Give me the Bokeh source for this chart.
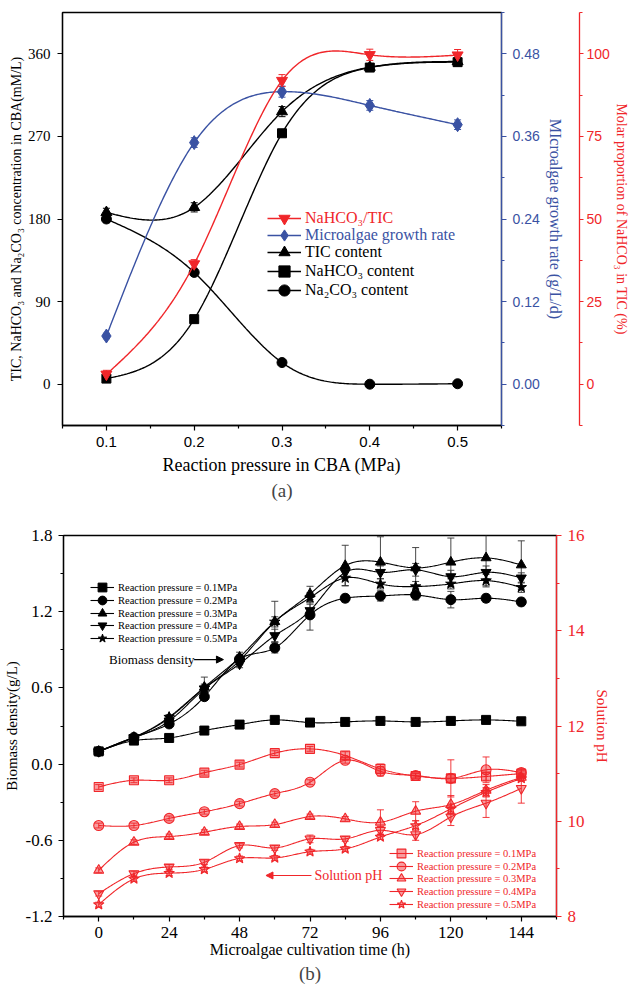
import numpy as np
from bokeh.plotting import figure
from bokeh.models import (Range1d, LinearAxis, FixedTicker, PrintfTickFormatter, Legend, LegendItem,
                          ColumnDataSource, Whisker, TeeHead, Title, Label, Arrow, NormalHead)
from bokeh.embed import file_html
from bokeh.resources import INLINE

# ---------------- data: panel (a) ----------------
pressure = [0.1, 0.2, 0.3, 0.4, 0.5]
nahco3_tic_pct = [3.0, 36.4, 91.9, 99.7, 99.6]
nahco3_tic_err = [1.2, 1.3, 1.8, 1.7, 1.7]
growth_rate = [0.070, 0.351, 0.425, 0.405, 0.377]
growth_rate_err = [0.004, 0.007, 0.008, 0.007, 0.007]
tic_content = [187.2, 192.7, 297.0, 345.4, 351.6]
tic_err = [4.5, 5.0, 5.5, 4.0, 4.0]
nahco3_content = [6.1, 70.9, 273.4, 345.0, 350.9]
nahco3_err = [2.0, 3.0, 4.0, 4.0, 4.0]
na2co3_content = [180.0, 121.8, 23.6, 0.0, 0.5]
na2co3_err = [4.0, 3.0, 2.0, 1.0, 1.0]

left_ticks_a = [0, 90, 180, 270, 360]
rate_ticks = [0.0, 0.12, 0.24, 0.36, 0.48]
pct_ticks = [0, 25, 50, 75, 100]
x_ticks_a = [0.1, 0.2, 0.3, 0.4, 0.5]

# ---------------- data: panel (b) ----------------
time_h = [0, 12, 24, 36, 48, 60, 72, 84, 96, 108, 120, 132, 144]
biomass_01 = [0.10, 0.185, 0.206, 0.264, 0.311, 0.348, 0.327, 0.332, 0.340, 0.332, 0.340, 0.348, 0.337]
biomass_02 = [0.10, 0.21, 0.316, 0.531, 0.828, 0.915, 1.175, 1.306, 1.324, 1.332, 1.295, 1.306, 1.277]
biomass_03 = [0.10, 0.21, 0.364, 0.605, 0.841, 1.122, 1.340, 1.563, 1.590, 1.545, 1.590, 1.624, 1.568]
biomass_04 = [0.10, 0.21, 0.340, 0.592, 0.789, 1.012, 1.209, 1.510, 1.510, 1.530, 1.476, 1.510, 1.466]
biomass_05 = [0.10, 0.21, 0.370, 0.600, 0.815, 1.120, 1.310, 1.466, 1.419, 1.398, 1.419, 1.445, 1.392]
biomass_err_01 = [0.01, 0.01, 0.01, 0.01, 0.01, 0.01, 0.01, 0.01, 0.01, 0.01, 0.01, 0.01, 0.01]
biomass_err_02 = [0.01, 0.01, 0.02, 0.03, 0.03, 0.04, 0.12, 0.03, 0.04, 0.04, 0.065, 0.03, 0.03]
biomass_err_03 = [0.01, 0.01, 0.02, 0.08, 0.04, 0.16, 0.06, 0.16, 0.20, 0.16, 0.19, 0.22, 0.19]
biomass_err_04 = [0.01, 0.01, 0.02, 0.03, 0.03, 0.05, 0.05, 0.05, 0.05, 0.05, 0.05, 0.05, 0.04]
biomass_err_05 = [0.01, 0.01, 0.02, 0.03, 0.03, 0.04, 0.04, 0.06, 0.04, 0.04, 0.04, 0.05, 0.04]

ph_01 = [10.72, 10.86, 10.86, 11.02, 11.19, 11.43, 11.52, 11.38, 11.10, 10.95, 10.90, 10.94, 11.00]
ph_02 = [9.91, 9.91, 10.06, 10.20, 10.37, 10.58, 10.82, 11.28, 11.05, 10.96, 10.90, 11.08, 11.02]
ph_03 = [8.97, 9.56, 9.68, 9.77, 9.89, 9.93, 10.10, 10.05, 9.98, 10.21, 10.35, 10.65, 10.92]
ph_04 = [8.48, 8.90, 9.04, 9.14, 9.49, 9.44, 9.63, 9.63, 9.81, 9.72, 10.09, 10.38, 10.69]
ph_05 = [8.25, 8.79, 8.91, 8.99, 9.22, 9.23, 9.36, 9.42, 9.67, 9.91, 10.26, 10.61, 10.90]
ph_err_01 = [0.05, 0.05, 0.05, 0.05, 0.05, 0.05, 0.05, 0.08, 0.10, 0.06, 0.08, 0.08, 0.06]
ph_err_02 = [0.05, 0.05, 0.05, 0.05, 0.05, 0.05, 0.05, 0.06, 0.10, 0.05, 0.39, 0.27, 0.08]
ph_err_03 = [0.05, 0.05, 0.05, 0.05, 0.05, 0.05, 0.05, 0.05, 0.26, 0.20, 0.19, 0.12, 0.06]
ph_err_04 = [0.05, 0.05, 0.05, 0.05, 0.05, 0.05, 0.08, 0.05, 0.08, 0.12, 0.18, 0.30, 0.31]
ph_err_05 = [0.05, 0.05, 0.05, 0.05, 0.05, 0.05, 0.05, 0.05, 0.05, 0.10, 0.10, 0.10, 0.06]

left_ticks_b = [-1.2, -0.6, 0.0, 0.6, 1.2, 1.8]
ph_ticks = [8, 10, 12, 14, 16]
x_ticks_b = [0, 24, 48, 72, 96, 120, 144]
pressure_labels = ["Reaction pressure = 0.1MPa", "Reaction pressure = 0.2MPa",
                   "Reaction pressure = 0.3MPa", "Reaction pressure = 0.4MPa",
                   "Reaction pressure = 0.5MPa"]

RED = "#f0262a"
BLUE = "#3a52a3"
SERIF = "Liberation Serif"
SANS = "Liberation Sans"


def smooth(x, y, n=240):
    """natural cubic spline through the data points (for the curved connecting lines)"""
    x = np.asarray(x, float)
    y = np.asarray(y, float)
    k = len(x)
    h = np.diff(x)
    A = np.zeros((k, k))
    r = np.zeros(k)
    A[0, 0] = A[-1, -1] = 1
    for i in range(1, k - 1):
        A[i, i - 1] = h[i - 1]
        A[i, i] = 2 * (h[i - 1] + h[i])
        A[i, i + 1] = h[i]
        r[i] = 3 * ((y[i + 1] - y[i]) / h[i] - (y[i] - y[i - 1]) / h[i - 1])
    c = np.linalg.solve(A, r)
    b = (y[1:] - y[:-1]) / h - h * (2 * c[:-1] + c[1:]) / 3
    d = (c[1:] - c[:-1]) / (3 * h)
    xs = np.linspace(x[0], x[-1], n)
    idx = np.clip(np.searchsorted(x, xs, side="right") - 1, 0, k - 2)
    dx = xs - x[idx]
    ys = y[idx] + b[idx] * dx + c[idx] * dx ** 2 + d[idx] * dx ** 3
    return xs, ys


def style_axis(ax, color, font, size, label_size, tick_out=5, minor_out=3):
    ax.axis_line_color = color
    ax.axis_line_width = 1.3
    ax.major_tick_line_color = color
    ax.minor_tick_line_color = color
    ax.major_tick_line_width = 1.2
    ax.minor_tick_line_width = 1.2
    ax.major_tick_in = 0
    ax.major_tick_out = tick_out
    ax.minor_tick_in = 0
    ax.minor_tick_out = minor_out
    ax.major_label_text_font = font
    ax.major_label_text_font_size = size
    ax.major_label_text_color = color
    ax.axis_label_text_font = SERIF
    ax.axis_label_text_font_size = label_size
    ax.axis_label_text_font_style = "normal"
    ax.axis_label_text_color = color


def add_err(p, x, y, err, color, head=7, width=1.0, y_range_name="default"):
    src = ColumnDataSource(dict(x=x, upper=[a + e for a, e in zip(y, err)],
                                lower=[a - e for a, e in zip(y, err)]))
    w = Whisker(source=src, base="x", upper="upper", lower="lower", dimension="height",
                line_color=color, line_width=width, y_range_name=y_range_name,
                upper_head=TeeHead(size=head, line_color=color, line_width=width),
                lower_head=TeeHead(size=head, line_color=color, line_width=width))
    p.add_layout(w)


def add_legend_rows(p, entries, x0, centers, frame_bottom_px, color, size, glyph_w, glyph_h):
    """one single-item legend per row so that rows can be packed tighter than the glyph box"""
    for (label, renderers), c in zip(entries, centers):
        lg = Legend(items=[LegendItem(label=label, renderers=renderers)],
                    location=(x0, int(round(frame_bottom_px - c - glyph_h / 2))),
                    label_text_color=color, label_text_font=SERIF, label_text_font_size=size,
                    glyph_width=glyph_w, glyph_height=glyph_h, label_height=glyph_h,
                    label_standoff=4, spacing=0, padding=0, margin=0,
                    border_line_color=None, background_fill_alpha=0)
        p.add_layout(lg)


# ======================= panel (a) =======================
p1 = figure(width=633, height=511, output_backend="svg", toolbar_location=None,
            x_range=Range1d(0.05, 0.55), y_range=Range1d(-45, 405),
            min_border_left=62, min_border_right=132, min_border_top=12, min_border_bottom=86)
p1.extra_y_ranges = {"rate": Range1d(-0.06, 0.54), "pct": Range1d(-12.5, 112.5)}
p1.grid.visible = False
p1.outline_line_color = "black"
p1.outline_line_width = 1.3

ya = p1.left[0]
ya.ticker = FixedTicker(ticks=left_ticks_a)
style_axis(ya, "black", SERIF, "15px", "14px")
ya.axis_label = "TIC, NaHCO\u2083 and Na\u2082CO\u2083 concentration in CBA(mM/L)"
ya.major_label_standoff = 7
ya.axis_label_standoff = 1

xa = p1.below[0]
xa.ticker = FixedTicker(ticks=x_ticks_a, minor_ticks=[0.05, 0.15, 0.25, 0.35, 0.45, 0.55])
style_axis(xa, "black", SANS, "15px", "18px")
xa.axis_label = "Reaction pressure in CBA (MPa)"
xa.major_label_standoff = 6
xa.axis_label_standoff = 5

ax_rate = LinearAxis(y_range_name="rate", axis_label="MIcroalgae growth rate (g/L/d)",
                     ticker=FixedTicker(ticks=rate_ticks, minor_ticks=[-0.06, 0.06, 0.18, 0.30, 0.42, 0.54]),
                     formatter=PrintfTickFormatter(format="%.2f"))
style_axis(ax_rate, BLUE, SANS, "14px", "16px")
ax_rate.major_label_standoff = 6
ax_rate.axis_label_standoff = 4
p1.add_layout(ax_rate, "right")

spacer = LinearAxis(y_range_name="pct", ticker=FixedTicker(ticks=[]), axis_line_color=None,
                    major_tick_line_color=None, minor_tick_line_color=None,
                    major_label_text_font_size="0px", axis_label="\u00a0",
                    axis_label_text_font_size="9px", axis_label_standoff=0,
                    major_tick_out=0, minor_tick_out=0, major_label_standoff=0)
p1.add_layout(spacer, "right")

ax_pct = LinearAxis(y_range_name="pct", axis_label="Molar proportion of NaHCO\u2083 in TIC (%)",
                    ticker=FixedTicker(ticks=pct_ticks, minor_ticks=[-12.5, 12.5, 37.5, 62.5, 87.5, 112.5]))
style_axis(ax_pct, RED, SANS, "14px", "14px", tick_out=4)
ax_pct.major_label_standoff = 3
ax_pct.axis_label_standoff = 1
p1.add_layout(ax_pct, "right")

p1.add_layout(Title(text="(a)", align="center", text_font=SERIF, text_font_size="19px",
                    text_font_style="normal", standoff=0), "below")

blk = []
for ys, err, marker, size in [(tic_content, tic_err, "triangle", 11),
                              (nahco3_content, nahco3_err, "square", 9),
                              (na2co3_content, na2co3_err, "circle", 10)]:
    sx, sy = smooth(pressure, ys)
    add_err(p1, pressure, ys, err, "black", head=7)
    rl = p1.line(sx, sy, line_color="black", line_width=1.4)
    rs = p1.scatter(pressure, ys, marker=marker, size=size, fill_color="black", line_color="black")
    blk.append([rl, rs])

sx, sy = smooth(pressure, growth_rate)
add_err(p1, pressure, growth_rate, growth_rate_err, BLUE, head=7, y_range_name="rate")
bl = p1.line(sx, sy, line_color=BLUE, line_width=1.4, y_range_name="rate")
bs = p1.scatter(pressure, growth_rate, marker="diamond", size=14, fill_color=BLUE, line_color=BLUE,
                y_range_name="rate")

sx, sy = smooth(pressure, nahco3_tic_pct)
add_err(p1, pressure, nahco3_tic_pct, nahco3_tic_err, RED, head=7, y_range_name="pct")
rl_ = p1.line(sx, sy, line_color=RED, line_width=1.4, y_range_name="pct")
rs_ = p1.scatter(pressure, nahco3_tic_pct, marker="inverted_triangle", size=11, fill_color=RED,
                 line_color=RED, y_range_name="pct")

# frame of panel (a) spans 12..425 px from the top of the figure
add_legend_rows(p1, [("NaHCO\u2083/TIC", [rl_, rs_])], 205, [206], 413, RED, "16px", 34, 28)
add_legend_rows(p1, [("Microalgae growth rate", [bl, bs])], 205, [223], 413, BLUE, "16px", 34, 28)
add_legend_rows(p1, [("TIC content", blk[0]), ("NaHCO\u2083 content", blk[1]),
                     ("Na\u2082CO\u2083 content", blk[2])], 205, [240, 259, 278], 413,
                "black", "16px", 34, 28)

# ======================= panel (b) =======================
p2 = figure(width=633, height=477, output_backend="svg", toolbar_location=None,
            x_range=Range1d(-12, 156), y_range=Range1d(-1.2, 1.8),
            min_border_left=61, min_border_right=77, min_border_top=24, min_border_bottom=72)
p2.extra_y_ranges = {"ph": Range1d(8, 16)}
p2.grid.visible = False
p2.outline_line_color = "black"
p2.outline_line_width = 1.3

yb = p2.left[0]
yb.ticker = FixedTicker(ticks=left_ticks_b, minor_ticks=[-0.9, -0.3, 0.3, 0.9, 1.5])
yb.formatter = PrintfTickFormatter(format="%.1f")
style_axis(yb, "black", SERIF, "17px", "15px")
yb.axis_label = "Biomass density(g/L)"
yb.major_label_standoff = 6
yb.axis_label_standoff = 3

xb = p2.below[0]
xb.ticker = FixedTicker(ticks=x_ticks_b, minor_ticks=[-12, 12, 36, 60, 84, 108, 132, 156])
style_axis(xb, "black", SERIF, "17px", "16px")
xb.axis_label = "Microalgae cultivation time (h)"
xb.major_label_standoff = 5
xb.axis_label_standoff = 0

ax_ph = LinearAxis(y_range_name="ph", axis_label="Solution pH",
                   ticker=FixedTicker(ticks=ph_ticks, minor_ticks=[9, 11, 13, 15]))
style_axis(ax_ph, RED, SERIF, "17px", "15px")
ax_ph.major_label_standoff = 6
ax_ph.axis_label_standoff = 6
p2.add_layout(ax_ph, "right")

p2.add_layout(Title(text="(b)", align="center", text_font=SERIF, text_font_size="19px",
                    text_font_style="normal", standoff=0), "below")

markers = ["square", "circle", "triangle", "inverted_triangle", "star"]
sizes = [9, 10, 10, 10, 11]
biomass = [biomass_01, biomass_02, biomass_03, biomass_04, biomass_05]
biomass_err = [biomass_err_01, biomass_err_02, biomass_err_03, biomass_err_04, biomass_err_05]
ph = [ph_01, ph_02, ph_03, ph_04, ph_05]
ph_err = [ph_err_01, ph_err_02, ph_err_03, ph_err_04, ph_err_05]

blk_entries = []
for i in range(5):
    add_err(p2, time_h, biomass[i], biomass_err[i], "#333333", head=7, width=0.9)
    sx, sy = smooth(time_h, biomass[i], n=400)
    l = p2.line(sx, sy, line_color="black", line_width=1.1)
    s = p2.scatter(time_h, biomass[i], marker=markers[i], size=sizes[i], fill_color="black",
                   line_color="black")
    blk_entries.append((pressure_labels[i], [l, s]))

red_entries = []
for i in range(5):
    add_err(p2, time_h, ph[i], ph_err[i], RED, head=7, width=0.9, y_range_name="ph")
    sx, sy = smooth(time_h, ph[i], n=400)
    l = p2.line(sx, sy, line_color=RED, line_width=1.1, y_range_name="ph")
    s = p2.scatter(time_h, ph[i], marker=markers[i], size=sizes[i], fill_color=RED, fill_alpha=0.45,
                   line_color=RED, line_width=1.1, y_range_name="ph")
    red_entries.append((pressure_labels[i], [l, s]))

# frame of panel (b) spans 24..405 px from the top of the figure (381 px tall)
add_legend_rows(p2, blk_entries, 27, [52, 65, 78, 90, 103], 381, "black", "10.5px", 24, 22)
add_legend_rows(p2, red_entries, 326, [318, 331, 343, 356, 369], 381, RED, "10.5px", 24, 22)

p2.add_layout(Label(x=3.5, y=0.823, text="Biomass density", text_font=SERIF,
                    text_font_size="13px", text_color="black", text_baseline="middle"))
p2.add_layout(Arrow(x_start=32.5, y_start=0.823, x_end=42.5, y_end=0.823, line_color="black",
                    line_width=1.2, end=NormalHead(size=7, fill_color="black", line_color="black")))
p2.add_layout(Label(x=73.5, y=-0.877, text="Solution pH", text_font=SERIF,
                    text_font_size="14px", text_color=RED, text_baseline="middle"))
p2.add_layout(Arrow(x_start=72.5, y_start=-0.877, x_end=57.0, y_end=-0.877, line_color=RED,
                    line_width=1.2, end=NormalHead(size=7, fill_color=RED, line_color=RED)))

open("out.html", "w").write(file_html([p1, p2], INLINE))
